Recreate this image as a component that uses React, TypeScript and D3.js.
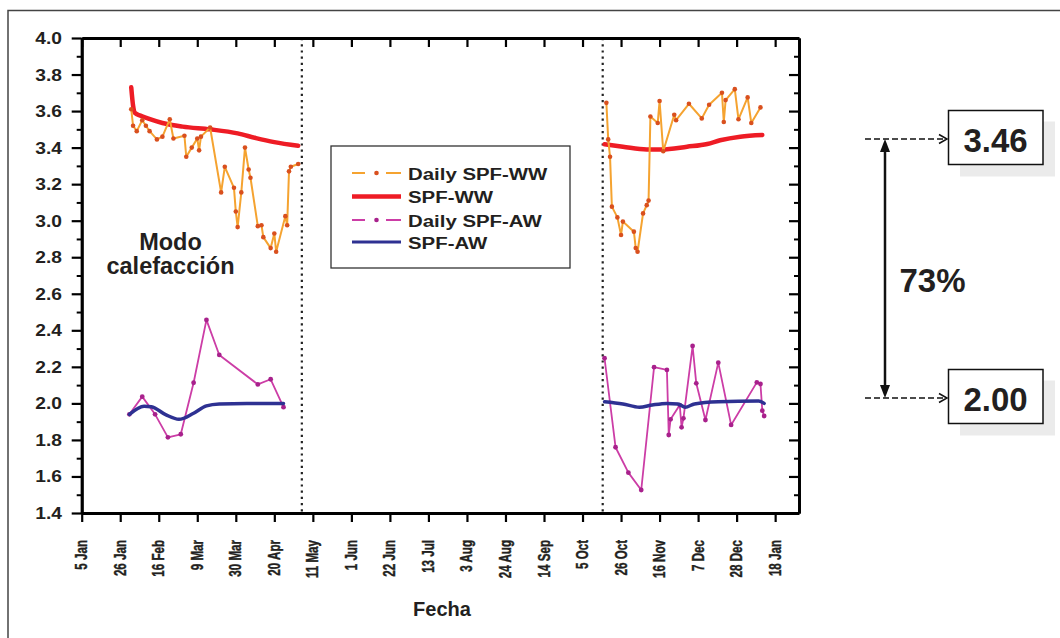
import React, { useEffect, useRef } from "react";
import * as d3 from "d3";

// ---------- DATA ----------
const yMajorTicks = [1.4, 1.6, 1.8, 2.0, 2.2, 2.4, 2.6, 2.8, 3.0, 3.2, 3.4, 3.6, 3.8, 4.0];
const yMinorTicks = [1.5, 1.7, 1.9, 2.1, 2.3, 2.5, 2.7, 2.9, 3.1, 3.3, 3.5, 3.7, 3.9];

const xTickDates = [
  "2011-01-05", "2011-01-26", "2011-02-16", "2011-03-09", "2011-03-30", "2011-04-20",
  "2011-05-11", "2011-06-01", "2011-06-22", "2011-07-13", "2011-08-03", "2011-08-24",
  "2011-09-14", "2011-10-05", "2011-10-26", "2011-11-16", "2011-12-07", "2011-12-28", "2012-01-18",
];
const xTickLabels = [
  "5 Jan", "26 Jan", "16 Feb", "9 Mar", "30 Mar", "20 Apr", "11 May", "1 Jun", "22 Jun",
  "13 Jul", "3 Aug", "24 Aug", "14 Sep", "5 Oct", "26 Oct", "16 Nov", "7 Dec", "28 Dec", "18 Jan",
];
const xDomain = ["2011-01-05", "2012-01-31"];
const periodBreakDates = ["2011-05-05", "2011-10-16"];

// Daily SPF-WW
const dailyWWDates = [
  "2011-02-01", "2011-02-02", "2011-02-04", "2011-02-07", "2011-02-09", "2011-02-11", "2011-02-15",
  "2011-02-18", "2011-02-22", "2011-02-24", "2011-03-02", "2011-03-03", "2011-03-06", "2011-03-09",
  "2011-03-10", "2011-03-11", "2011-03-16", "2011-03-22", "2011-03-24", "2011-03-29", "2011-03-30",
  "2011-03-31", "2011-04-02", "2011-04-04", "2011-04-06", "2011-04-07", "2011-04-11", "2011-04-13",
  "2011-04-14", "2011-04-18", "2011-04-20", "2011-04-21", "2011-04-26", "2011-04-27", "2011-04-28",
  "2011-04-29", "2011-05-03",
  "2011-10-18", "2011-10-19", "2011-10-20", "2011-10-21", "2011-10-24", "2011-10-26", "2011-10-27",
  "2011-11-02", "2011-11-03", "2011-11-04", "2011-11-07", "2011-11-09", "2011-11-10", "2011-11-11",
  "2011-11-15", "2011-11-16", "2011-11-18", "2011-11-24", "2011-11-25", "2011-12-02", "2011-12-09",
  "2011-12-13", "2011-12-20", "2011-12-21", "2011-12-22", "2011-12-27", "2011-12-29", "2012-01-03",
  "2012-01-05", "2012-01-10",
];
const dailyWWValues = [
  3.61, 3.52, 3.49, 3.55, 3.52, 3.49, 3.445,
  3.46, 3.555, 3.45, 3.465, 3.35, 3.4, 3.45,
  3.385, 3.46, 3.51, 3.155, 3.295, 3.18, 3.05,
  2.965, 3.155, 3.4, 3.28, 3.235, 2.97, 2.975,
  2.91, 2.85, 2.93, 2.83, 3.025, 2.975, 3.27,
  3.295, 3.31,
  3.645, 3.445, 3.35, 3.077, 3.018, 2.922, 2.995,
  2.94, 2.85, 2.83, 3.04, 3.085, 3.11, 3.57,
  3.535, 3.655, 3.38, 3.58, 3.55, 3.64, 3.56,
  3.635, 3.7, 3.54, 3.66, 3.72, 3.555, 3.675,
  3.535, 3.62,
];

// SPF-WW (seasonal)
const wwDates = [
  "2011-02-01", "2011-02-02", "2011-02-03", "2011-02-06", "2011-02-10", "2011-02-18", "2011-03-01",
  "2011-03-16", "2011-03-31", "2011-04-10", "2011-04-20", "2011-05-03",
  "2011-10-17", "2011-10-27", "2011-11-09", "2011-11-17", "2011-12-01", "2011-12-12", "2011-12-19",
  "2011-12-30", "2012-01-11",
];
const wwValues = [
  3.73, 3.63, 3.59, 3.575, 3.56, 3.535, 3.515,
  3.5, 3.478, 3.452, 3.43, 3.41,
  3.418, 3.405, 3.39, 3.39, 3.405, 3.42, 3.44,
  3.46, 3.469,
];

// Daily SPF-AW
const dailyAWDates = [
  "2011-01-31", "2011-02-07", "2011-02-14", "2011-02-21", "2011-02-28", "2011-03-07", "2011-03-14",
  "2011-03-21", "2011-04-11", "2011-04-18", "2011-04-25",
  "2011-10-17", "2011-10-23", "2011-10-30", "2011-11-06", "2011-11-13", "2011-11-20", "2011-11-21",
  "2011-11-22", "2011-11-27", "2011-11-28", "2011-11-29", "2011-12-04", "2011-12-06", "2011-12-11",
  "2011-12-18", "2011-12-25", "2012-01-08", "2012-01-10", "2012-01-11", "2012-01-12",
];
const dailyAWValues = [
  1.94, 2.037, 1.94, 1.814, 1.831, 2.113, 2.457,
  2.265, 2.104, 2.132, 1.979,
  2.247, 1.76, 1.621, 1.526, 2.198, 2.183, 1.827,
  1.913, 1.991, 1.869, 1.918, 2.314, 2.11, 1.909,
  2.223, 1.882, 2.115, 2.106, 1.96, 1.931,
];

// SPF-AW (seasonal)
const awDates = [
  "2011-01-31", "2011-02-08", "2011-02-12", "2011-02-20", "2011-02-27", "2011-03-07", "2011-03-14",
  "2011-03-21", "2011-04-05", "2011-04-25",
  "2011-10-17", "2011-10-27", "2011-11-05", "2011-11-12", "2011-11-20", "2011-11-26", "2011-11-30",
  "2011-12-05", "2011-12-18", "2012-01-09", "2012-01-12",
];
const awValues = [
  1.94, 1.985, 1.982, 1.937, 1.913, 1.946, 1.986,
  1.997, 2.0, 2.0,
  2.009, 1.997, 1.979, 1.991, 2.0, 1.997, 1.979,
  1.997, 2.009, 2.013, 2.0,
];

const legendLabels = ["Daily SPF-WW", "SPF-WW", "Daily SPF-AW", "SPF-AW"];
const axisTitle = "Fecha";
const modeLabel = ["Modo", "calefacción"];
const annotationLabels = ["3.46", "2.00"];
const annotationPct = "73%";

// ---------- STYLE ----------
const FONT = "'Liberation Sans', Arial, Helvetica, sans-serif";
const TEXT = "#231f20";
const C_ORANGE = "#f5a330";
const C_ORANGE_DOT = "#d9501e";
const C_RED = "#ee1c25";
const C_MAGENTA = "#cc3da6";
const C_MAGENTA_DOT = "#a8218c";
const C_BLUE = "#2e3192";

export default function App() {
  const ref = useRef<SVGSVGElement>(null);

  useEffect(() => {
    const svg = d3.select(ref.current);
    svg.selectAll("*").remove();

    const parse = d3.utcParse("%Y-%m-%d");
    const X0 = 81.7, X1 = 799, Y0 = 513, Y1 = 38;
    const x = d3.scaleUtc().domain(xDomain.map((s) => parse(s) as Date)).range([X0, X1]);
    const y = d3.scaleLinear().domain([1.4, 4.0]).range([Y0, Y1]);

    const toSegments = (dates: string[], values: number[]) => {
      const pts = dates.map((d, i) => ({ d: parse(d) as Date, v: values[i] }));
      const segs: { d: Date; v: number }[][] = [];
      let cur: { d: Date; v: number }[] = [];
      pts.forEach((p, i) => {
        if (i > 0 && (p.d.getTime() - pts[i - 1].d.getTime()) / 864e5 > 60) {
          segs.push(cur);
          cur = [];
        }
        cur.push(p);
      });
      if (cur.length) segs.push(cur);
      return segs;
    };

    // outer frame
    svg.append("rect").attr("x", 8).attr("y", 10.5).attr("width", 1200).attr("height", 800)
      .attr("fill", "white").attr("stroke", "#444").attr("stroke-width", 1.5);

    // dotted period separators
    periodBreakDates.forEach((s) => {
      const px = x(parse(s) as Date);
      svg.append("line").attr("x1", px).attr("x2", px).attr("y1", Y1).attr("y2", Y0)
        .attr("stroke", "#222").attr("stroke-width", 2.2).attr("stroke-dasharray", "2.2,4");
    });

    const plot = svg.append("g");
    const linear = d3.line<{ d: Date; v: number }>().x((p) => x(p.d)).y((p) => y(p.v));
    const smooth = d3.line<{ d: Date; v: number }>().x((p) => x(p.d)).y((p) => y(p.v)).curve(d3.curveMonotoneX);

    // SPF-WW seasonal
    toSegments(wwDates, wwValues).forEach((seg) => {
      plot.append("path").attr("d", smooth(seg)).attr("fill", "none").attr("stroke", C_RED)
        .attr("stroke-width", 4.5).attr("stroke-linecap", "round");
    });
    // Daily SPF-WW
    toSegments(dailyWWDates, dailyWWValues).forEach((seg) => {
      plot.append("path").attr("d", linear(seg)).attr("fill", "none").attr("stroke", C_ORANGE)
        .attr("stroke-width", 2).attr("stroke-linejoin", "round");
      plot.selectAll(null).data(seg).enter().append("circle")
        .attr("cx", (p) => x(p.d)).attr("cy", (p) => y(p.v)).attr("r", 2.3).attr("fill", C_ORANGE_DOT);
    });
    // Daily SPF-AW
    toSegments(dailyAWDates, dailyAWValues).forEach((seg) => {
      plot.append("path").attr("d", linear(seg)).attr("fill", "none").attr("stroke", C_MAGENTA)
        .attr("stroke-width", 1.8).attr("stroke-linejoin", "round");
      plot.selectAll(null).data(seg).enter().append("circle")
        .attr("cx", (p) => x(p.d)).attr("cy", (p) => y(p.v)).attr("r", 2.4).attr("fill", C_MAGENTA_DOT);
    });
    // SPF-AW seasonal
    toSegments(awDates, awValues).forEach((seg) => {
      plot.append("path").attr("d", smooth(seg)).attr("fill", "none").attr("stroke", C_BLUE)
        .attr("stroke-width", 3.5).attr("stroke-linecap", "round");
    });

    // axes
    const styleAxis = (g: any, dw: number, tw: number) => {
      g.select(".domain").attr("stroke", "#000").attr("stroke-width", dw);
      g.selectAll(".tick line").attr("stroke", "#000").attr("stroke-width", tw);
      g.selectAll(".tick text").remove();
    };
    const xTicks = xTickDates.map((s) => parse(s) as Date);
    const gl = svg.append("g").attr("transform", `translate(${X0},0)`)
      .call(d3.axisLeft(y).tickValues(yMajorTicks).tickSize(10).tickSizeOuter(0));
    styleAxis(gl, 2.8, 2.2);
    const glm = svg.append("g").attr("transform", `translate(${X0},0)`)
      .call(d3.axisLeft(y).tickValues(yMinorTicks).tickSize(5).tickSizeOuter(0));
    styleAxis(glm, 2.8, 2);
    const gr = svg.append("g").attr("transform", `translate(${X1},0)`)
      .call(d3.axisLeft(y).tickValues(yMajorTicks).tickSize(10).tickSizeOuter(0));
    styleAxis(gr, 2.8, 2.2);
    const grm = svg.append("g").attr("transform", `translate(${X1},0)`)
      .call(d3.axisLeft(y).tickValues(yMinorTicks).tickSize(5).tickSizeOuter(0));
    styleAxis(grm, 2.8, 2);
    const gb = svg.append("g").attr("transform", `translate(0,${Y0})`)
      .call(d3.axisBottom(x).tickValues(xTicks).tickSize(9).tickSizeOuter(0));
    styleAxis(gb, 2.8, 2.2);
    const gt = svg.append("g").attr("transform", `translate(0,${Y1})`)
      .call(d3.axisBottom(x).tickValues(xTicks).tickSize(9).tickSizeOuter(0));
    styleAxis(gt, 2.8, 2.2);

    // y labels
    yMajorTicks.forEach((v) => {
      svg.append("text").attr("transform", `translate(62,${y(v) + 6}) scale(1.2,1)`)
        .attr("text-anchor", "end").attr("font-family", FONT).attr("font-weight", "bold")
        .attr("font-size", 16).attr("fill", TEXT).text(d3.format(".1f")(v));
    });
    // x labels
    xTicks.forEach((d, i) => {
      svg.append("text").attr("transform", `translate(${x(d) + 5.5},540) scale(1.42,1) rotate(-90)`)
        .attr("text-anchor", "end").attr("font-family", FONT).attr("font-weight", "bold")
        .attr("font-size", 11.6).attr("fill", TEXT).attr("stroke", TEXT).attr("stroke-width", 0.3)
        .text(xTickLabels[i]);
    });
    svg.append("text").attr("x", 442).attr("y", 616).attr("text-anchor", "middle")
      .attr("font-family", FONT).attr("font-weight", "bold").attr("font-size", 20).attr("fill", TEXT)
      .text(axisTitle);

    // mode label
    modeLabel.forEach((t, i) => {
      svg.append("text").attr("x", 170.5).attr("y", 249.5 + i * 24.5).attr("text-anchor", "middle")
        .attr("font-family", FONT).attr("font-weight", "bold").attr("font-size", 23.5).attr("fill", TEXT)
        .text(t);
    });

    // legend
    const lg = svg.append("g");
    lg.append("rect").attr("x", 331).attr("y", 146).attr("width", 239).attr("height", 122)
      .attr("fill", "white").attr("stroke", "#333").attr("stroke-width", 1.3);
    const legendStyles = [
      { c: C_ORANGE, dot: C_ORANGE_DOT, daily: true, w: 2 },
      { c: C_RED, dot: "", daily: false, w: 4.5 },
      { c: C_MAGENTA, dot: C_MAGENTA_DOT, daily: true, w: 2 },
      { c: C_BLUE, dot: "", daily: false, w: 3 },
    ];
    const rowY = [173, 196.5, 220, 242];
    legendLabels.forEach((lab, i) => {
      const st = legendStyles[i];
      const ry = rowY[i];
      if (st.daily) {
        lg.append("line").attr("x1", 352).attr("x2", 365).attr("y1", ry).attr("y2", ry)
          .attr("stroke", st.c).attr("stroke-width", st.w);
        lg.append("line").attr("x1", 386).attr("x2", 401).attr("y1", ry).attr("y2", ry)
          .attr("stroke", st.c).attr("stroke-width", st.w);
        lg.append("circle").attr("cx", 376.5).attr("cy", ry).attr("r", 2.3).attr("fill", st.dot);
      } else {
        lg.append("line").attr("x1", 352).attr("x2", 401).attr("y1", ry).attr("y2", ry)
          .attr("stroke", st.c).attr("stroke-width", st.w);
      }
      lg.append("text").attr("transform", `translate(408,${ry + 6.5}) scale(1.2,1)`)
        .attr("font-family", FONT).attr("font-weight", "bold").attr("font-size", 17)
        .attr("fill", TEXT).text(lab);
    });

    // right annotations
    const an = svg.append("g");
    const annY = [139, 398];
    const boxY = [110.5, 369.5];
    annotationLabels.forEach((lab, i) => {
      an.append("rect").attr("x", 960).attr("y", boxY[i] + 11).attr("width", 95).attr("height", 55)
        .attr("fill", "#ebebeb");
      an.append("rect").attr("x", 948.5).attr("y", boxY[i]).attr("width", 94.5).attr("height", 54)
        .attr("fill", "white").attr("stroke", "#111").attr("stroke-width", 1.5);
      an.append("text").attr("x", 995.5).attr("y", boxY[i] + 41.5).attr("text-anchor", "middle")
        .attr("font-family", FONT).attr("font-weight", "bold").attr("font-size", 33).attr("fill", TEXT)
        .text(lab);
      an.append("line").attr("x1", 865).attr("x2", 946).attr("y1", annY[i]).attr("y2", annY[i])
        .attr("stroke", "#111").attr("stroke-width", 1.5).attr("stroke-dasharray", "6,3");
      an.append("path").attr("d", `M939,${annY[i] - 4.5} L947,${annY[i]} L939,${annY[i] + 4.5}`)
        .attr("fill", "none").attr("stroke", "#111").attr("stroke-width", 1.5);
    });
    an.append("line").attr("x1", 885).attr("x2", 885).attr("y1", annY[0] + 8).attr("y2", annY[1] - 8)
      .attr("stroke", "#111").attr("stroke-width", 2.5);
    an.append("path").attr("d", `M885,${annY[0]} L880,${annY[0] + 13} L890,${annY[0] + 13} Z`).attr("fill", "#111");
    an.append("path").attr("d", `M885,${annY[1]} L880,${annY[1] - 13} L890,${annY[1] - 13} Z`).attr("fill", "#111");
    an.append("text").attr("x", 932.5).attr("y", 291.5).attr("text-anchor", "middle")
      .attr("font-family", FONT).attr("font-weight", "bold").attr("font-size", 33).attr("fill", TEXT)
      .text(annotationPct);
  }, []);

  return (
    <svg
      ref={ref}
      width={1060}
      height={638}
      style={{ position: "absolute", left: 0, top: 0, background: "#fff" }}
    />
  );
}
